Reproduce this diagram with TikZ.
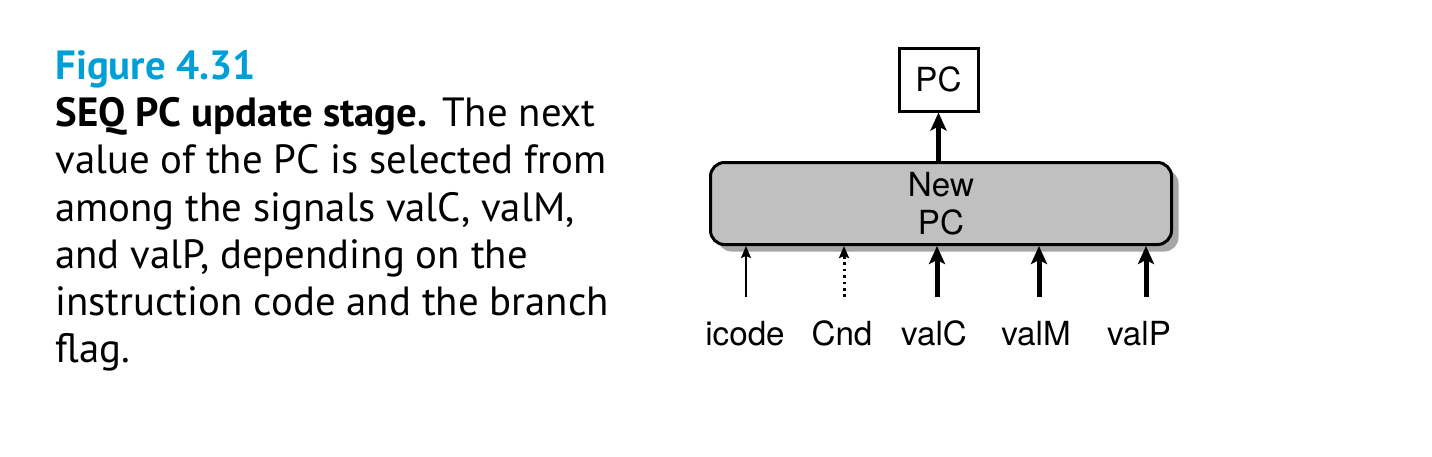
\documentclass[tikz,border=0pt]{standalone}
\usepackage{fontspec}
\setmainfont{PT Sans}
\newfontfamily\diagfont{TeX Gyre Heros}
\usetikzlibrary{arrows.meta,positioning,shadows}

\definecolor{figblue}{RGB}{0,160,214}
\definecolor{boxgray}{RGB}{192,192,192}
\definecolor{shadegray}{RGB}{166,166,166}

\tikzset{
  stagebox/.style={draw, line width=1.5pt, rounded corners=7pt, fill=boxgray,
    drop shadow={shadow xshift=3.5pt, shadow yshift=-3.5pt, fill=shadegray, opacity=1},
    align=center, font=\diagfont\fontsize{16.6}{19}\selectfont},
  regbox/.style={draw, line width=1.5pt, fill=white, font=\diagfont\fontsize{16.6}{19}\selectfont},
  siglabel/.style={anchor=base, inner sep=0pt, font=\diagfont\fontsize{16.6}{19}\selectfont},
  wordwire/.style={line width=2.5pt, -{Stealth[length=9pt, width=8pt, inset=2pt]}},
  bitwire/.style={line width=0.8pt, -{Stealth[length=6pt, width=5pt, inset=1pt]}},
  condwire/.style={line width=1.5pt, dash pattern=on 1.3pt off 1.9pt,
    -{Stealth[length=6pt, width=5pt, inset=1pt]}}
}

\begin{document}
\begin{tikzpicture}[x=0.5pt,y=0.5pt,yscale=-1]
\useasboundingbox (0,0) rectangle (1432,456);

% Caption
\node (caption) [anchor=north west, inner sep=0pt, align=left,
  font=\fontsize{20.4}{23.6}\selectfont] at (55,50)
  {\textcolor{figblue}{\bfseries Figure 4.31}\\
   \textbf{SEQ PC update stage.} The next\\
   value of the PC is selected from\\
   among the signals valC, valM,\\
   and valP, depending on the\\
   instruction code and the branch\\
   flag.};

%Shape: New PC block
\node (newpc) [stagebox, minimum width=230.5pt, minimum height=41pt] at (941,203.5) {New\\PC};
%Shape: PC register
\node (pc) [regbox, minimum width=39.5pt, minimum height=31.5pt] at (938.5,79.5) {PC};

\draw [wordwire] (newpc.north -| pc.south) -- (pc.south);

% Text Node
\node (icode) [siglabel] at (745,345) {icode};
\node (cnd) [siglabel] at (842,345) {Cnd};
\node (valc) [siglabel] at (934,345) {valC};
\node (valm) [siglabel] at (1036,345) {valM};
\node (valp) [siglabel] at (1139,345) {valP};

% Input wires
\coordinate (icode-tail) at (746,297);
\coordinate (cnd-tail) at (844,297);
\coordinate (valc-tail) at (937,297);
\coordinate (valm-tail) at (1039,297);
\coordinate (valp-tail) at (1146,297);

\draw [bitwire] (icode-tail) -- (icode-tail |- newpc.south);
\draw [condwire] (cnd-tail) -- (cnd-tail |- newpc.south);
\foreach \sig in {valc,valm,valp}
  \draw [wordwire] (\sig-tail) -- (\sig-tail |- newpc.south);

\end{tikzpicture}
\end{document}
